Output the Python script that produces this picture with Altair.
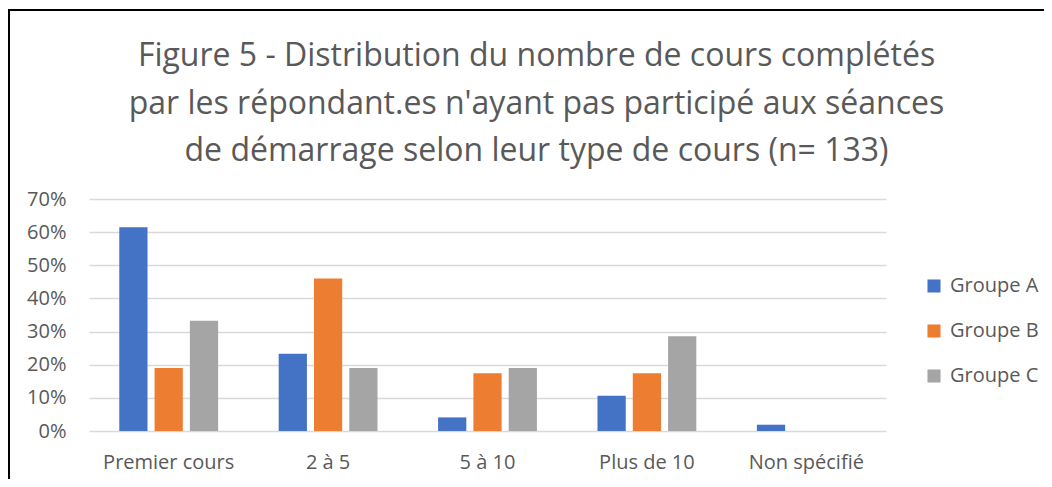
import altair as alt
import pandas as pd

categories = ["Premier cours", "2 à 5", "5 à 10", "Plus de 10", "Non spécifié"]
groups = ["Groupe A", "Groupe B", "Groupe C"]
groupe_a = [0.615, 0.233, 0.041, 0.106, 0.019]
groupe_b = [0.190, 0.460, 0.174, 0.174, 0.0]
groupe_c = [0.333, 0.190, 0.190, 0.286, 0.0]
colors = ["#4472C4", "#ED7D31", "#A5A5A5"]
y_ticks = [0, 0.1, 0.2, 0.3, 0.4, 0.5, 0.6, 0.7]

rows = []
for g, vals in zip(groups, [groupe_a, groupe_b, groupe_c]):
    for c, v in zip(categories, vals):
        rows.append({"cat": c, "groupe": g, "val": v})
df = pd.DataFrame(rows)

FONT = "Open Sans"
GREY = "#595959"

bars = alt.Chart(df).mark_bar().encode(
    x=alt.X("cat:N", sort=categories, title=None,
            scale=alt.Scale(paddingInner=0.38, paddingOuter=0.19),
            axis=alt.Axis(labelAngle=0, ticks=False, domain=False, grid=False,
                          labelFont=FONT, labelFontSize=20, labelColor=GREY,
                          labelPadding=21)),
    xOffset=alt.XOffset("groupe:N", sort=groups,
                        scale=alt.Scale(paddingInner=0.2, paddingOuter=0)),
    y=alt.Y("val:Q", title=None,
            scale=alt.Scale(domain=[0, 0.7], nice=False),
            axis=alt.Axis(values=y_ticks, format=".0%", ticks=False, domain=False,
                          grid=True, gridColor="#D9D9D9", gridWidth=1.3,
                          labelFont=FONT, labelFontSize=20, labelColor=GREY,
                          labelPadding=23)),
    color=alt.Color("groupe:N", sort=groups,
                    scale=alt.Scale(domain=groups, range=colors),
                    legend=alt.Legend(title=None, orient="none", legendX=835, legendY=77,
                                      symbolType="square", symbolSize=170,
                                      symbolStrokeWidth=0, rowPadding=25,
                                      labelFont=FONT, labelFontSize=20,
                                      labelColor=GREY, labelOffset=6)),
)

frame_data = pd.DataFrame({"k": [0]})
top_line = alt.Chart(frame_data).mark_rule(color="black", strokeWidth=2).encode(
    x=alt.value(-80), x2=alt.value(960), y=alt.value(-189)
)
left_line = alt.Chart(frame_data).mark_rule(color="black", strokeWidth=2).encode(
    x=alt.value(-80), y=alt.value(-190), y2=alt.value(290)
)

chart = alt.layer(bars, top_line, left_line).properties(
    width=797,
    height=232,
    padding={"left": 81, "top": 191, "right": 158, "bottom": 48},
    autosize=alt.AutoSizeParams(type="none"),
    title=alt.TitleParams(
        text=["Figure 5 - Distribution du nombre de cours complétés",
              "par les répondant.es n'ayant pas participé aux séances",
              "de démarrage selon leur type de cours (n= 133)"],
        font=FONT, fontSize=32, fontWeight="normal", color=GREY,
        anchor="middle", lineHeight=47.5, offset=30, dy=190, dx=49,
    ),
).configure_view(stroke=None)

chart.save("out.html", embed_options={"renderer": "svg", "actions": False})
